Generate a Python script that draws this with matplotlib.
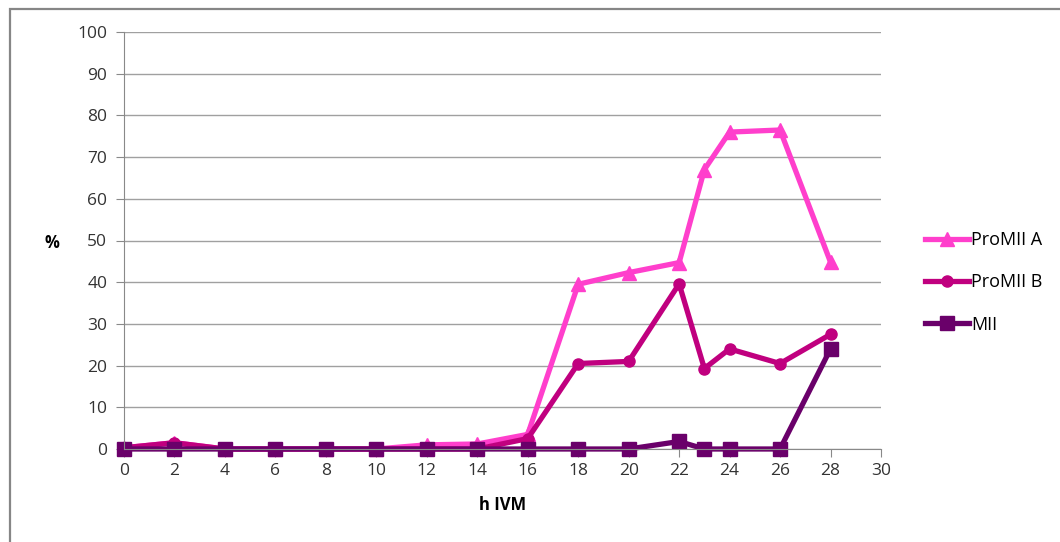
import numpy as np
import matplotlib
matplotlib.use("Agg")
from matplotlib import pyplot as plt
from matplotlib.patches import Rectangle

# Data
hours = [0, 2, 4, 6, 8, 10, 12, 14, 16, 18, 20, 22, 23, 24, 26, 28]
promii_a = [0.3, 1.5, 0, 0, 0, 0, 1.0, 1.2, 3.5, 39.5, 42.3, 44.7, 67.0, 76.0, 76.5, 44.8]
promii_b = [0.3, 1.5, 0, 0, 0, 0, 0, 0, 2.5, 20.5, 21.0, 39.6, 19.3, 24.0, 20.5, 27.5]
mii = [0, 0, 0, 0, 0, 0, 0, 0, 0, 0, 0, 1.8, 0, 0, 0, 24.0]
series_names = ["ProMII A", "ProMII B", "MII"]

plt.rcParams['font.family'] = ['Open Sans', 'DejaVu Sans']

fig = plt.figure(figsize=(10.6, 5.42), dpi=100)
ax = fig.add_axes([124/1060, 1 - 449/542, (881-124)/1060, (449-32)/542])

# outer frame of the chart object (only left and top edges are inside the picture)
fig.patches.append(Rectangle((9.5/1060, -0.2), 1.2, 1.2 - 8.5/542, transform=fig.transFigure,
                             fill=False, edgecolor='#868686', linewidth=1.6))

ax.plot(hours, promii_a, color='#FF3FCC', lw=3.8, marker='^', ms=10, label=series_names[0],
        clip_on=False)
ax.plot(hours, promii_b, color='#C0007F', lw=3.8, marker='o', ms=8, label=series_names[1],
        clip_on=False)
ax.plot(hours, mii, color='#6A006A', lw=3.8, marker='s', ms=10, label=series_names[2],
        clip_on=False)

ax.set_xlim(0, 30)
ax.set_ylim(0, 100)
ax.set_xticks(np.arange(0, 31, 2))
ax.set_yticks(np.arange(0, 101, 10))
ax.yaxis.grid(True, color='#A0A0A0', lw=1)
ax.set_axisbelow(True)
for s in ['top', 'right']:
    ax.spines[s].set_visible(False)
for s in ['left', 'bottom']:
    ax.spines[s].set_color('#898989')
ax.tick_params(axis='both', colors='#898989', labelcolor='#333333', labelsize=12.5)
ax.tick_params(axis='x', length=6, direction='out', pad=4)
ax.tick_params(axis='y', length=6, direction='out', pad=6)

ax.set_xlabel('h IVM', fontsize=12, fontweight='bold', labelpad=12)
fig.text(52/1060, 1 - 243/542, '%', fontsize=12, fontweight='bold', ha='center', va='center')

ax.legend(loc='center left', bbox_to_anchor=(1.037, 0.40), frameon=False, fontsize=13,
          handlelength=2.4, labelspacing=1.35, handletextpad=0.15)

fig.savefig('out.png', dpi=100)
